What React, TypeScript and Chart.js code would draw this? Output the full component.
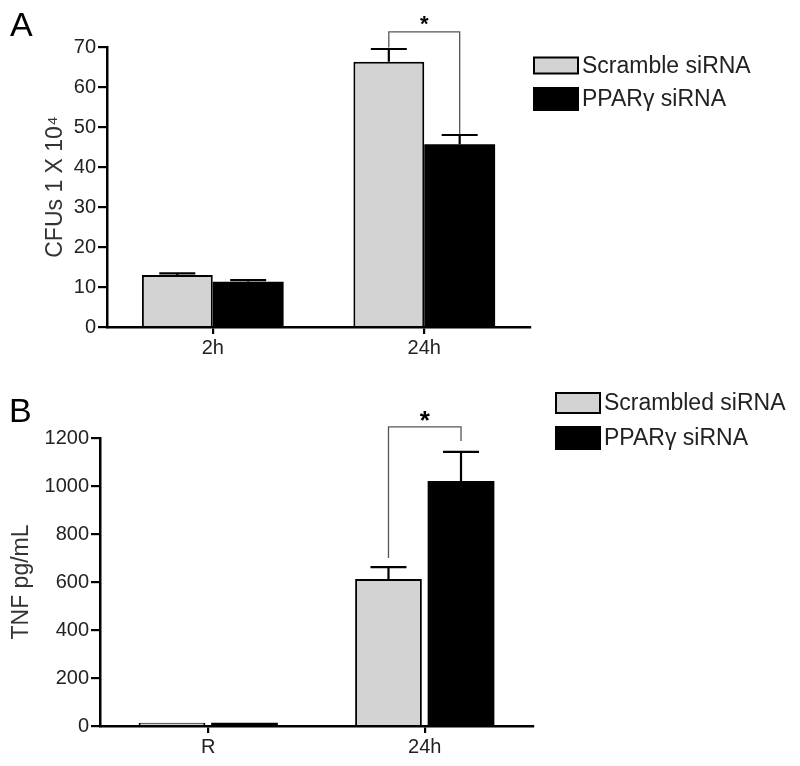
import React, { useEffect, useRef } from "react";
import { Chart, registerables } from "chart.js";
Chart.register(...registerables);

// ---------- Data ----------
const categoriesA = ["2h", "24h"];
const scrambleA = [13, 66.3];
const scrambleErrA = [0.4, 3.2];
const ppargA = [11.3, 45.7];
const ppargErrA = [0.4, 2.3];
const legendA = ["Scramble siRNA", "PPARγ siRNA"];
const yTitleA = "CFUs 1 X 10⁴";
const bracketA = [69.9, 73.8, 48.2]; // left leg start, top, right leg end (data units)

const categoriesB = ["R", "24h"];
const scrambledB = [14, 612];
const scrambledErrB = [0, 50];
const ppargB = [14, 1021];
const ppargErrB = [0, 121];
const legendB = ["Scrambled siRNA", "PPARγ siRNA"];
const yTitleB = "TNF pg/mL";
const bracketB = [700, 1246, 1187];

const FONT = "'Liberation Sans', Arial, Helvetica, sans-serif";
const GRAY = "#d3d3d3";
const TEXT = "#222";

// ---------- Plugins ----------
const errorBarPlugin = {
  id: "errorBars",
  afterDatasetsDraw(chart: any) {
    const ctx = chart.ctx;
    const y = chart.scales.y;
    chart.data.datasets.forEach((ds: any, i: number) => {
      const meta = chart.getDatasetMeta(i);
      meta.data.forEach((el: any, j: number) => {
        const err = ds.errors ? ds.errors[j] : 0;
        if (!err) return;
        const top = y.getPixelForValue(ds.data[j] + err);
        ctx.save();
        ctx.strokeStyle = "#000";
        ctx.lineWidth = 2.2;
        ctx.beginPath();
        ctx.moveTo(el.x, el.y);
        ctx.lineTo(el.x, top);
        ctx.moveTo(el.x - 18, top);
        ctx.lineTo(el.x + 18, top);
        ctx.stroke();
        ctx.restore();
      });
    });
  },
};

const bracketPlugin = {
  id: "sigBracket",
  afterDatasetsDraw(chart: any, _args: any, opts: any) {
    if (!opts || !opts.values) return;
    const ctx = chart.ctx;
    const y = chart.scales.y;
    const idx = opts.index;
    const x1 = chart.getDatasetMeta(0).data[idx].x;
    const x2 = chart.getDatasetMeta(1).data[idx].x + (opts.rightShift || 0);
    const [a, t, b] = opts.values;
    const ya = y.getPixelForValue(a);
    const yt = y.getPixelForValue(t);
    const yb = y.getPixelForValue(b);
    ctx.save();
    ctx.strokeStyle = "#555";
    ctx.lineWidth = 1.3;
    ctx.beginPath();
    ctx.moveTo(x1, ya);
    ctx.lineTo(x1, yt);
    ctx.lineTo(x2, yt);
    ctx.lineTo(x2, yb);
    ctx.stroke();
    ctx.fillStyle = "#000";
    ctx.font = `bold ${opts.starSize}px ${FONT}`;
    ctx.textAlign = "center";
    ctx.textBaseline = "alphabetic";
    ctx.fillText("*", (x1 + x2) / 2, yt - opts.starGap + 0.57 * opts.starSize);
    ctx.restore();
  },
};

const boxLegendPlugin = {
  id: "boxLegend",
  afterDraw(chart: any, _args: any, opts: any) {
    if (!opts || !opts.labels) return;
    const ctx = chart.ctx;
    ctx.save();
    opts.labels.forEach((label: string, i: number) => {
      const ds = chart.data.datasets[i];
      const cy = opts.rows[i];
      const h = opts.boxH[i];
      ctx.fillStyle = ds.backgroundColor;
      ctx.fillRect(opts.x, cy - h / 2, opts.boxW, h);
      ctx.strokeStyle = "#000";
      ctx.lineWidth = 2;
      ctx.strokeRect(opts.x, cy - h / 2, opts.boxW, h);
      ctx.fillStyle = TEXT;
      ctx.font = `${opts.size}px ${FONT}`;
      ctx.textAlign = "left";
      ctx.textBaseline = "middle";
      ctx.fillText(label, opts.x + opts.boxW + 4, cy + 1);
    });
    ctx.restore();
  },
};

const panelLabelPlugin = {
  id: "panelLabel",
  afterDraw(chart: any, _args: any, opts: any) {
    if (!opts || !opts.text) return;
    const ctx = chart.ctx;
    ctx.save();
    ctx.fillStyle = "#000";
    ctx.font = `${opts.size}px ${FONT}`;
    ctx.textAlign = "left";
    ctx.textBaseline = "alphabetic";
    ctx.fillText(opts.text, opts.x, opts.y);
    ctx.restore();
  },
};

// ---------- Panel ----------
type PanelProps = {
  width: number;
  height: number;
  top: number;
  categories: string[];
  s1: number[];
  e1: number[];
  s2: number[];
  e2: number[];
  labels: string[];
  yTitle: string;
  yMax: number;
  yStep: number;
  axisLeft: number;
  padTop: number;
  padRight: number;
  padBottom: number;
  titlePad: number;
  barPct: number;
  bracket: number[];
  starSize: number;
  legend: any;
  panel: any;
};

function Panel(p: PanelProps) {
  const ref = useRef<HTMLCanvasElement | null>(null);
  useEffect(() => {
    if (!ref.current) return;
    const chart = new Chart(ref.current, {
      type: "bar",
      data: {
        labels: p.categories,
        datasets: [
          {
            label: p.labels[0],
            data: p.s1,
            errors: p.e1,
            backgroundColor: GRAY,
            borderColor: "#000",
            borderWidth: 2,
            barPercentage: p.barPct,
            categoryPercentage: 0.67,
          } as any,
          {
            label: p.labels[1],
            data: p.s2,
            errors: p.e2,
            backgroundColor: "#000",
            borderColor: "#000",
            borderWidth: 0,
            barPercentage: p.barPct,
            categoryPercentage: 0.67,
          } as any,
        ],
      },
      options: {
        animation: false,
        responsive: false,
        devicePixelRatio: 1,
        layout: {
          padding: { left: 0, top: p.padTop, right: p.padRight, bottom: p.padBottom },
        },
        plugins: {
          legend: { display: false },
          tooltip: { enabled: false },
          boxLegend: p.legend,
          panelLabel: p.panel,
          sigBracket: { index: 1, values: p.bracket, starSize: p.starSize, starGap: 13 },
        } as any,
        scales: {
          x: {
            offset: true,
            grid: {
              offset: false,
              drawOnChartArea: false,
              drawTicks: true,
              tickLength: 7,
              color: "#000",
              lineWidth: 2.2,
            },
            border: { display: true, color: "#000", width: 2.5 },
            ticks: { color: TEXT, font: { size: 20, family: FONT }, padding: 2 },
            afterFit: (s: any) => {
              s.height = 35;
            },
          },
          y: {
            min: 0,
            max: p.yMax,
            ticks: {
              stepSize: p.yStep,
              color: TEXT,
              font: { size: 20, family: FONT },
              padding: 2,
              callback: (v: any) => String(v),
            },
            grid: {
              drawOnChartArea: false,
              drawTicks: true,
              tickLength: 9,
              color: "#000",
              lineWidth: 2.2,
            },
            border: { display: true, color: "#000", width: 2.5 },
            title: {
              display: true,
              text: p.yTitle,
              color: "#333",
              font: { size: 23, family: FONT },
              padding: { top: p.titlePad, bottom: 0 },
            },
            afterFit: (s: any) => {
              s.width = p.axisLeft;
            },
          },
        },
      } as any,
      plugins: [errorBarPlugin, bracketPlugin, boxLegendPlugin, panelLabelPlugin],
    });
    return () => chart.destroy();
  }, []);
  return (
    <canvas
      ref={ref}
      width={p.width}
      height={p.height}
      style={{ position: "absolute", left: 0, top: p.top, width: p.width, height: p.height }}
    />
  );
}

export default function App() {
  return (
    <div
      style={{
        position: "absolute",
        left: 0,
        top: 0,
        width: 800,
        height: 766,
        background: "#fff",
      }}
    >
      <Panel
        width={800}
        height={370}
        top={0}
        categories={categoriesA}
        s1={scrambleA}
        e1={scrambleErrA}
        s2={ppargA}
        e2={ppargErrA}
        labels={legendA}
        yTitle={yTitleA}
        yMax={70}
        yStep={10}
        axisLeft={107}
        padTop={47}
        padRight={270}
        padBottom={8}
        titlePad={42}
        barPct={1.0}
        bracket={bracketA}
        starSize={22}
        legend={{ labels: legendA, x: 534, rows: [65.5, 99], boxW: 44, boxH: [16, 22], size: 23 }}
        panel={{ text: "A", x: 10, y: 36, size: 34 }}
      />
      <Panel
        width={800}
        height={396}
        top={370}
        categories={categoriesB}
        s1={scrambledB}
        e1={scrambledErrB}
        s2={ppargB}
        e2={ppargErrB}
        labels={legendB}
        yTitle={yTitleB}
        yMax={1200}
        yStep={200}
        axisLeft={100}
        padTop={68}
        padRight={267}
        padBottom={5}
        titlePad={8}
        barPct={0.92}
        bracket={bracketB}
        starSize={26}
        legend={{ labels: legendB, x: 556, rows: [33, 68], boxW: 44, boxH: [20, 22], size: 23 }}
        panel={{ text: "B", x: 9, y: 52, size: 34 }}
      />
    </div>
  );
}
